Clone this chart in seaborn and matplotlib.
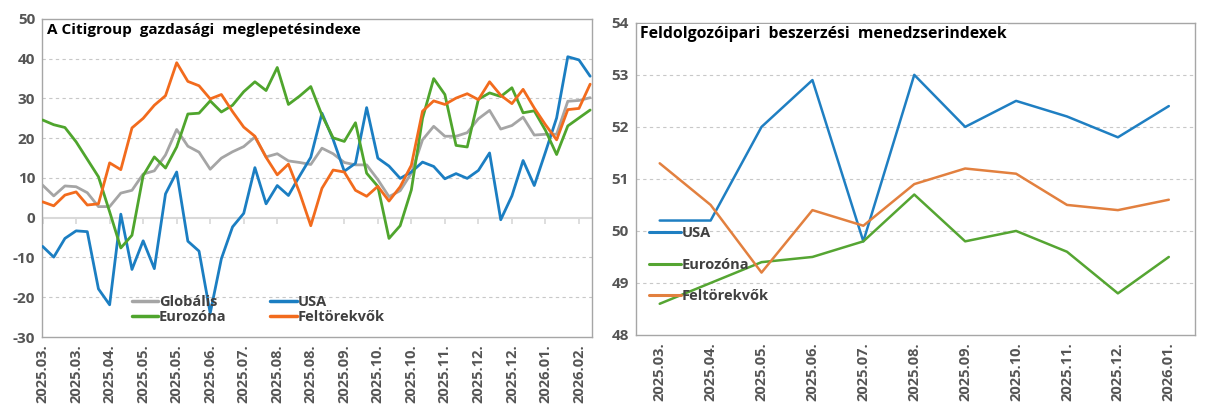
import numpy as np
import pandas as pd
import matplotlib
matplotlib.use("Agg")
import matplotlib.pyplot as plt
import seaborn as sns

# --- data: Citigroup economic surprise index (weekly) ---
weekly_ticks = ["2025.03.", "2025.03.", "2025.04.", "2025.05.", "2025.05.", "2025.06.",
                "2025.07.", "2025.08.", "2025.08.", "2025.09.", "2025.10.", "2025.10.",
                "2025.11.", "2025.12.", "2025.12.", "2026.01.", "2026.02."]
globalis = [8.2, 5.5, 8.0, 7.8, 6.3, 2.8, 2.8, 6.2, 6.9, 11.0,
            11.8, 15.8, 22.2, 18.0, 16.5, 12.2, 15.0, 16.6, 17.9, 20.3,
            15.3, 16.1, 14.3, 13.9, 13.4, 17.5, 16.1, 13.9, 13.3, 13.3,
            9.6, 5.3, 6.8, 11.2, 19.6, 23.0, 20.5, 20.5, 21.4, 24.9,
            27.0, 22.3, 23.2, 25.3, 20.8, 21.0, 21.0, 29.3, 29.5, 30.2]
usa = [-7.2, -9.9, -5.2, -3.3, -3.5, -17.9, -21.9, 0.9, -13.0, -5.8,
       -12.8, 6.0, 11.5, -5.9, -8.4, -24.0, -10.3, -2.3, 1.1, 12.6,
       3.5, 8.1, 5.6, 10.5, 15.2, 26.3, 19.7, 11.7, 13.7, 27.7,
       15.0, 13.0, 9.9, 11.5, 14.0, 12.9, 9.8, 11.1, 9.9, 11.9,
       16.3, -0.5, 5.5, 14.4, 8.1, 16.5, 25.1, 40.5, 39.7, 35.6]
eurozona = [24.6, 23.4, 22.7, 19.1, 14.7, 10.3, 1.5, -7.6, -4.4, 10.6,
            15.3, 12.5, 17.8, 26.1, 26.3, 29.4, 26.6, 28.3, 31.7, 34.2,
            32.0, 37.8, 28.5, 30.6, 33.0, 25.8, 20.1, 19.2, 23.9, 11.2,
            7.9, -5.2, -2.0, 7.0, 25.0, 35.0, 31.0, 18.2, 17.8, 29.8,
            31.4, 30.5, 32.7, 26.4, 26.9, 22.0, 15.9, 23.1, 25.1, 27.1]
feltorekvok = [4.0, 3.0, 5.7, 6.5, 3.2, 3.5, 13.8, 12.1, 22.6, 25.0,
               28.3, 30.7, 39.0, 34.3, 33.2, 29.9, 31.0, 26.7, 22.8, 20.5,
               15.2, 10.8, 13.5, 6.3, -2.0, 7.4, 12.0, 11.5, 6.9, 5.4,
               7.9, 4.2, 7.8, 13.2, 26.8, 29.4, 28.5, 30.1, 31.2, 29.7,
               34.2, 30.8, 28.7, 32.3, 27.6, 23.4, 19.6, 27.2, 27.5, 33.6]

# --- data: manufacturing PMI (monthly) ---
pmi_months = ["2025.03.", "2025.04.", "2025.05.", "2025.06.", "2025.07.", "2025.08.",
              "2025.09.", "2025.10.", "2025.11.", "2025.12.", "2026.01."]
pmi_usa = [50.2, 50.2, 52.0, 52.9, 49.8, 53.0, 52.0, 52.5, 52.2, 51.8, 52.4]
pmi_euro = [48.6, 49.0, 49.4, 49.5, 49.8, 50.7, 49.8, 50.0, 49.6, 48.8, 49.5]
pmi_em = [51.3, 50.5, 49.2, 50.4, 50.1, 50.9, 51.2, 51.1, 50.5, 50.4, 50.6]

sns.set_theme(style="white")
plt.rcParams["font.family"] = ["Open Sans", "DejaVu Sans"]

TXT = "#555555"
FRAME = "#a6a6a6"
GRID = "#c8c8c8"

n = len(usa)
df_left = pd.DataFrame({
    "t": np.tile(np.arange(n), 4),
    "val": globalis + usa + eurozona + feltorekvok,
    "series": ["Globális"] * n + ["USA"] * n + ["Eurozóna"] * n + ["Feltörekvők"] * n,
})
m = len(pmi_usa)
df_right = pd.DataFrame({
    "t": np.tile(np.arange(m), 3),
    "val": pmi_usa + pmi_euro + pmi_em,
    "series": ["USA"] * m + ["Eurozóna"] * m + ["Feltörekvők"] * m,
})

fig = plt.figure(figsize=(12.11, 4.19), dpi=100)
ax1 = fig.add_axes([0.0347, 0.1957, 0.454, 0.759])
ax2 = fig.add_axes([0.525, 0.2005, 0.4616, 0.745])

left_pal = {"Globális": "#a5a5a5", "USA": "#1b7ec2",
            "Eurozóna": "#4fa52d", "Feltörekvők": "#f26b1d"}
sns.lineplot(data=df_left, x="t", y="val", hue="series", palette=left_pal,
             linewidth=2.0, ax=ax1, legend=False, zorder=3)

right_pal = {"USA": "#1f7fc2", "Eurozóna": "#55a532", "Feltörekvők": "#e2803f"}
sns.lineplot(data=df_right, x="t", y="val", hue="series", palette=right_pal,
             linewidth=1.8, ax=ax2, legend=False, zorder=3)

def style_axes(ax, yticks, xticks, xlabels):
    for sp in ax.spines.values():
        sp.set_color(FRAME)
        sp.set_linewidth(1.0)
    ax.set_xlabel("")
    ax.set_ylabel("")
    ax.set_yticks(yticks)
    ax.set_yticklabels([str(v) for v in yticks], fontweight="bold", fontsize=11, color=TXT)
    ax.set_xticks(xticks)
    ax.set_xticklabels(xlabels, rotation=90, fontweight="bold", fontsize=10.5, color=TXT)
    ax.tick_params(axis="y", length=0, pad=5)
    ax.tick_params(axis="x", length=0, pad=5)

# left chart
ax1.set_ylim(-30, 50)
ax1.set_xlim(-0.05, n - 1 + 0.15)
for v in range(-30, 51, 10):
    if v not in (-30, 0, 50):
        ax1.axhline(v, color=GRID, lw=0.8, ls=(0, (3, 3)), zorder=1)
ax1.axhline(0, color="#d9d9d9", lw=1.5, zorder=1)
style_axes(ax1, list(range(-30, 51, 10)), list(range(0, n, 3)), weekly_ticks)
sec = ax1.secondary_xaxis(30 / 80)
sec.set_xticks(range(0, n, 3))
sec.tick_params(axis="x", length=4, color="#d9d9d9", labelbottom=False)
sec.spines["bottom"].set_visible(False)
ax1.text(0.009, 0.965, "A Citigroup  gazdasági  meglepetésindexe", transform=ax1.transAxes,
         ha="left", va="center", fontsize=11, fontweight="bold", color="black")

h1 = [plt.Line2D([], [], color=left_pal[k], lw=2.5) for k in ["Globális", "Eurozóna", "USA", "Feltörekvők"]]
leg1 = ax1.legend(h1, ["Globális", "Eurozóna", "USA", "Feltörekvők"], ncol=2,
                  loc="lower left", bbox_to_anchor=(0.14, 0.0), frameon=False,
                  handlelength=1.8, handletextpad=0.05, columnspacing=3.0,
                  labelspacing=0.05, fontsize=10.5)
for t in leg1.get_texts():
    t.set_color("#404040")
    t.set_fontweight("bold")

# right chart
ax2.set_ylim(48, 54)
ax2.set_xlim(-0.47, m - 1 + 0.51)
for v in range(49, 54):
    ax2.axhline(v, color=GRID, lw=0.8, ls=(0, (3, 3)), zorder=1)
style_axes(ax2, list(range(48, 55)), list(range(m)), pmi_months)
ax2.text(0.007, 0.965, "Feldolgozóipari  beszerzési  menedzserindexek", transform=ax2.transAxes,
         ha="left", va="center", fontsize=11.3, fontweight="bold", color="black",
         bbox=dict(facecolor="white", edgecolor="none", pad=1))

h2 = [plt.Line2D([], [], color=right_pal[k], lw=2.2) for k in ["USA", "Eurozóna", "Feltörekvők"]]
leg2 = ax2.legend(h2, ["USA", "Eurozóna", "Feltörekvők"], loc="upper left",
                  bbox_to_anchor=(0.0, 0.39), frameon=False,
                  handlelength=2.2, handletextpad=0.02, labelspacing=1.2, fontsize=10.5)
for t in leg2.get_texts():
    t.set_color("#404040")
    t.set_fontweight("bold")

fig.savefig("out.png", dpi=100, facecolor="white")
